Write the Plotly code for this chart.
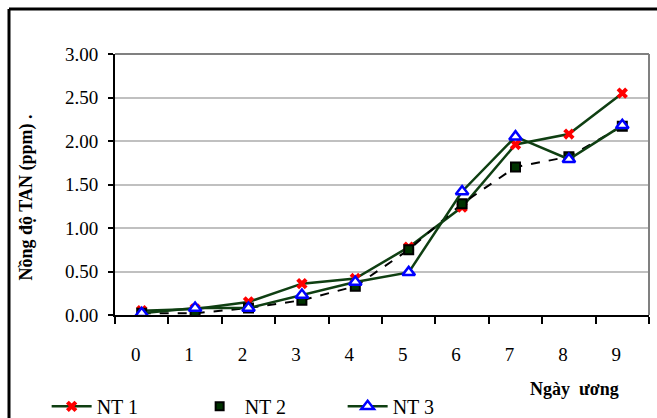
import plotly.graph_objects as go

days = ["0", "1", "2", "3", "4", "5", "6", "7", "8", "9"]
nt1 = [0.05, 0.07, 0.15, 0.36, 0.42, 0.78, 1.24, 1.96, 2.08, 2.55]
nt2 = [0.02, 0.02, 0.08, 0.17, 0.33, 0.75, 1.28, 1.70, 1.82, 2.17]
nt3 = [0.02, 0.08, 0.08, 0.23, 0.38, 0.49, 1.42, 2.05, 1.79, 2.18]
y_ticks = [0, 0.5, 1.0, 1.5, 2.0, 2.5, 3.0]
y_labels = ["0.00", "0.50", "1.00", "1.50", "2.00", "2.50", "3.00"]

FONT = "Times New Roman, Liberation Serif, DejaVu Serif, serif"
GREEN = "#0f3f12"

fig = go.Figure()
fig.add_trace(go.Scatter(
    x=days, y=nt1, name="NT 1", mode="lines+markers",
    line=dict(color=GREEN, width=2.5),
    marker=dict(symbol="x", size=10, color="#ff0000", line=dict(width=0)),
))
fig.add_trace(go.Scatter(
    x=days, y=nt2, name="NT 2", mode="lines+markers", showlegend=False,
    line=dict(color="#000000", width=2, dash="dash"),
    marker=dict(symbol="square", size=9, color="#003300", line=dict(color="#000000", width=2)),
))
fig.add_trace(go.Scatter(
    x=[None], y=[None], name="NT 2", mode="markers",
    marker=dict(symbol="square", size=8, color="#003300", line=dict(color="#000000", width=2)),
))
fig.add_trace(go.Scatter(
    x=days, y=nt3, name="NT 3", mode="lines+markers",
    line=dict(color=GREEN, width=2.5),
    marker=dict(symbol="triangle-up", size=11, color="#ffffff", line=dict(color="#0000ff", width=2.5)),
))

fig.update_layout(
    width=657, height=418,
    margin=dict(l=115, r=8, t=54, b=103, autoexpand=False),
    paper_bgcolor="#ffffff", plot_bgcolor="#ffffff",
    font=dict(family=FONT, size=19, color="#000000"),
    xaxis=dict(
        type="category", tickson="boundaries", range=[-0.5, 9.5],
        showgrid=False, showline=True, linecolor="#000000", linewidth=2,
        ticks="outside", ticklen=7, tickwidth=2, tickcolor="#000000",
        ticklabelstandoff=21, ticklabelshift=-6,
        tickfont=dict(family=FONT, size=19),
        zeroline=False, automargin=False,
    ),
    yaxis=dict(
        range=[0, 3.0], tickvals=y_ticks, ticktext=y_labels,
        showgrid=True, gridcolor="#c0c0c0", gridwidth=1.5,
        showline=True, linecolor="#000000", linewidth=2,
        ticks="outside", ticklen=5, tickwidth=2, tickcolor="#000000",
        ticklabelstandoff=6,
        tickfont=dict(family=FONT, size=19),
        zeroline=False, automargin=False,
    ),
    legend=dict(
        orientation="h", x=-0.128, xanchor="left", y=-0.35, yanchor="middle",
        font=dict(family=FONT, size=20), bgcolor="rgba(0,0,0,0)",
        entrywidth=93, itemwidth=40,
    ),
    annotations=[
        dict(text="<b>Nồng độ TAN (ppm) .</b>", textangle=-90, xref="paper", yref="paper",
             x=-0.165, y=0.45, xanchor="center", yanchor="middle", showarrow=False,
             font=dict(family=FONT, size=18)),
        dict(text="<b>Ngày  ương</b>", xref="paper", yref="paper",
             x=0.861, y=-0.285, xanchor="center", yanchor="middle", showarrow=False,
             font=dict(family=FONT, size=18)),
    ],
    shapes=[
        dict(type="line", xref="paper", yref="paper", x0=0, x1=1, y0=1, y1=1,
             line=dict(color="#808080", width=2)),
        dict(type="line", xref="paper", yref="paper", x0=1, x1=1, y0=0, y1=1,
             line=dict(color="#808080", width=2)),
        dict(type="line", xref="paper", yref="paper", x0=-0.1985, x1=1.1, y0=1.1724, y1=1.1724,
             line=dict(color="#000000", width=3)),
        dict(type="line", xref="paper", yref="paper", x0=-0.1985, x1=-0.1985, y0=1.1724, y1=-0.6,
             line=dict(color="#000000", width=3)),
    ],
)

fig.write_html("out.html")
